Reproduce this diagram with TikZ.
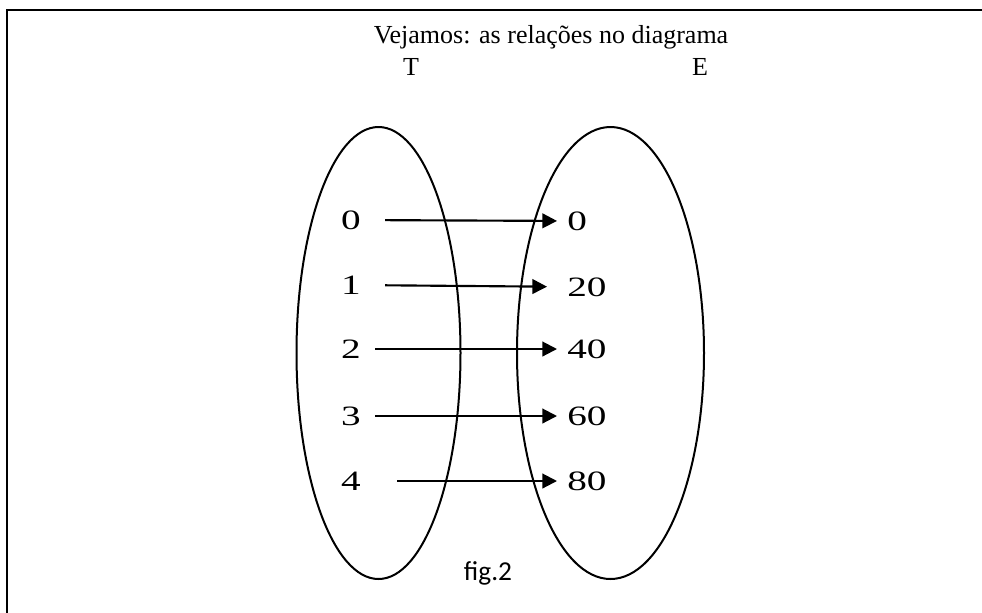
\documentclass[tikz,border=0pt]{standalone}
\usepackage{fontspec}
\setmainfont{Liberation Serif}
\newfontfamily\numfont[FakeStretch=1.4]{Liberation Serif}
\newfontfamily\figfont{Carlito}
\usetikzlibrary{arrows.meta, positioning, shapes.geometric}
\tikzset{
  frame/.style={draw=black, line width=1.6pt},
  setshape/.style={draw=black, ellipse, line width=1.5pt, inner sep=0pt},
  titletext/.style={font=\fontsize{19.5}{22}\selectfont, inner sep=0pt, anchor=base},
  numT/.style={font=\numfont\fontsize{21}{24}\selectfont, inner sep=0pt},
  numE/.style={font=\numfont\fontsize{21}{24}\selectfont, inner sep=0pt, anchor=west},
  figtext/.style={font=\figfont\fontsize{20.5}{24}\selectfont, inner sep=0pt, anchor=base},
  arrow/.style={-{Triangle[length=11pt, width=11pt]}, line width=1.6pt, draw=black}
}
\begin{document}
\begin{tikzpicture}[x=0.75pt, y=-0.75pt]
\useasboundingbox (0,0) rectangle (982,612);
\draw[frame] (7,620) -- (7,10) -- (990,10);
\node[titletext] (title) at (551,43) {Vejamos: as relações no diagrama};
\node[titletext] (lblT) at (411,75) {T};
\node[titletext] (lblE) at (700,75) {E};
\node[setshape, minimum width=123pt, minimum height=339pt] (setT) at (378.5,353) {};
\node[setshape, minimum width=140.25pt, minimum height=339pt] (setE) at (610.5,353) {};
\node[numT] (t0) at (351,220) {0};
\node[numT] (t1) at (351,285) {1};
\node[numT] (t2) at (351,349) {2};
\node[numT] (t3) at (351,416) {3};
\node[numT] (t4) at (351,481) {4};
\node[numE] (e0) at (567,221) {0};
\node[numE] (e1) at (567,287) {20};
\node[numE] (e2) at (567,349) {40};
\node[numE] (e3) at (567,416) {60};
\node[numE] (e4) at (567,481) {80};
\draw[arrow, shorten <=18pt, shorten >=7.5pt] (t0) -- (e0);
\draw[arrow, shorten <=18pt, shorten >=15pt] (t1) -- (e1);
\draw[arrow, shorten <=10.5pt, shorten >=7.5pt] (t2) -- (e2);
\draw[arrow, shorten <=10.5pt, shorten >=7.5pt] (t3) -- (e3);
\draw[arrow, shorten <=27pt, shorten >=7.5pt] (t4) -- (e4);
\node[figtext] (fig) at (488,580) {fig.2};
\end{tikzpicture}
\end{document}
